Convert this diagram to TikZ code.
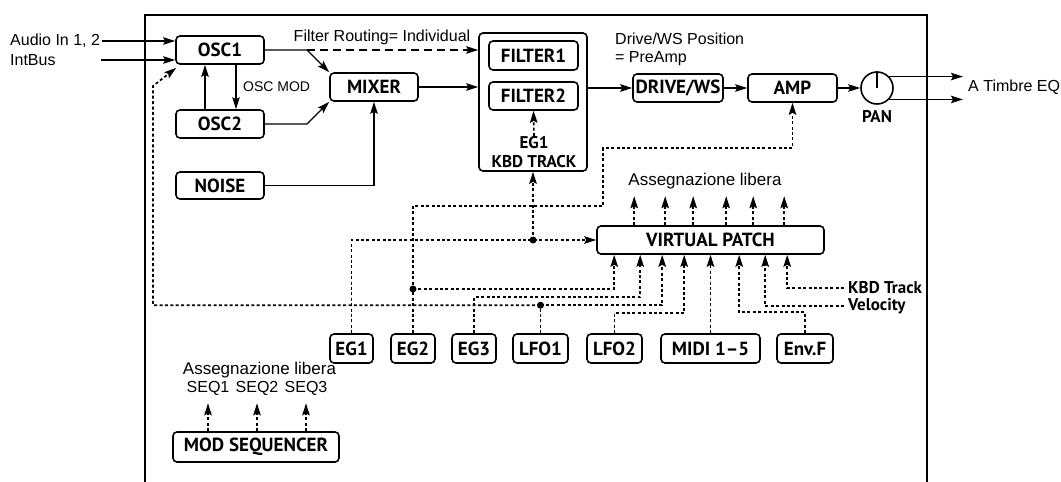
\documentclass[tikz,border=0pt]{standalone}
\usepackage{fontspec}
\setmainfont{Liberation Sans}
\newfontfamily\labelfont{PT Sans}
\usetikzlibrary{arrows.meta}

\begin{document}
\begin{tikzpicture}[x=1pt,y=-1pt,
  box/.style={draw, line width=1.6pt, rounded corners=4pt, inner sep=0pt,
    font=\labelfont\bfseries\fontsize{19}{21}\selectfont},
  tag/.style={inner sep=0pt, font=\labelfont\bfseries\fontsize{17}{19}\selectfont},
  txt/.style={inner sep=0pt, font=\fontsize{16}{19}\selectfont},
  bigtxt/.style={inner sep=0pt, font=\fontsize{17}{19}\selectfont},
  wire/.style={line width=1.4pt},
  dotw/.style={line width=1.7pt, dash pattern=on 3pt off 2.4pt},
  dashw/.style={line width=1.4pt, dash pattern=on 8pt off 5pt},
  arr/.style={-{Stealth[length=12pt,width=7.5pt,inset=2pt]}},
  jdot/.style={circle, fill, inner sep=0pt, minimum size=7pt},
  smallbox/.style={box, minimum height=29pt},
]
\useasboundingbox (0,0) rectangle (1061,482);

% outer frame
\draw[line width=1.6pt] (145,482) -- (145,15) -- (927,15) -- (927,482);

% audio path blocks
\node[box, minimum width=88pt, minimum height=28pt] (osc1) at (220,50) {OSC1};
\node[box, minimum width=88pt, minimum height=28pt] (osc2) at (220,124) {OSC2};
\node[box, minimum width=88pt, minimum height=27pt] (noise) at (220,185.5) {NOISE};
\node[box, minimum width=88pt, minimum height=28pt] (mixer) at (374,87) {MIXER};
\node[box, minimum width=108pt, minimum height=138pt] (filt) at (533,102) {};
\node[box, minimum width=89pt, minimum height=29pt] (f1) at (533.5,55.5) {FILTER1};
\node[box, minimum width=89pt, minimum height=28pt] (f2) at (533.5,96) {FILTER2};
\node[tag, align=center] (egk) at (534,152) {EG1\\KBD TRACK};
\node[box, minimum width=90pt, minimum height=28pt] (drive) at (678,88) {DRIVE/WS};
\node[box, minimum width=89pt, minimum height=28pt] (amp) at (792.5,88) {AMP};
\node[draw, circle, line width=1.6pt, minimum size=32pt, inner sep=0pt] (pan) at (877,88) {};
\node[tag] (panlbl) at (877,117) {PAN};

% modulation blocks
\node[box, minimum width=227pt, minimum height=28pt] (vp) at (710.5,240) {VIRTUAL PATCH};
\node[smallbox, minimum width=43pt] (eg1) at (351.5,348.5) {EG1};
\node[smallbox, minimum width=44pt] (eg2) at (413,348.5) {EG2};
\node[smallbox, minimum width=44pt] (eg3) at (474,348.5) {EG3};
\node[smallbox, minimum width=55pt] (lfo1) at (540.5,348.5) {LFO1};
\node[smallbox, minimum width=55pt] (lfo2) at (614.5,348.5) {LFO2};
\node[smallbox, minimum width=99pt] (midi) at (710.5,348.5) {MIDI 1–5};
\node[smallbox, minimum width=56pt] (envf) at (805,348.5) {Env.F};
\node[box, minimum width=166pt, minimum height=30pt] (modseq) at (256,447) {MOD SEQUENCER};

% captions
\node[txt, anchor=west] (audio) at (10,41) {Audio In 1, 2};
\node[txt, anchor=west] (intbus) at (10,60) {IntBus};
\coordinate (intbusend) at (101,60);
\node[inner sep=0pt, font=\fontsize{14}{16}\selectfont, anchor=west] (oscmod) at (243,87) {OSC MOD};
\node[txt] (frlbl) at (382,37) {Filter Routing= Individual};
\node[txt, anchor=west] (dwpos) at (615,39) {Drive/WS Position};
\node[txt, anchor=west] (dwpre) at (615,59) {= PreAmp};
\node[txt, anchor=west] (eq) at (968,87) {A Timbre EQ};
\coordinate (eqin) at (963,87);
\node[bigtxt] (freeA) at (705,181) {Assegnazione libera};
\node[tag, anchor=west] (kbdt) at (848,288) {KBD Track};
\node[tag, anchor=west] (velo) at (848,306) {Velocity};
\node[bigtxt] (freeB) at (259.5,370) {Assegnazione libera};
\node[txt] (seq1) at (208,388) {SEQ1};
\node[txt] (seq2) at (257,388) {SEQ2};
\node[txt] (seq3) at (306,388) {SEQ3};

% audio connections
\draw[wire,arr] ([xshift=2pt]audio.east) -- (osc1.west |- audio.east);
\draw[wire,arr] (intbusend) -- (osc1.west |- intbusend);
\draw[wire,arr] ([xshift=16pt]osc1.south) -- ([xshift=16pt]osc2.north);
\draw[wire,arr] ([xshift=-15pt]osc2.north) -- ([xshift=-15pt]osc1.south);
\coordinate (split1) at (307,50);
\coordinate (split2) at (307,124);
\draw[wire,arr] (osc1.east) -- (split1) -- (mixer.north west);
\draw[dashw,arr] (split1) -- (split1 -| filt.west);
\draw[wire,arr] (osc2.east) -- (split2) -- (mixer.south west);
\draw[wire,arr] (noise.east) -| (mixer.south);
\draw[wire,arr] (mixer.east) -- (mixer.east -| filt.west);
\draw[wire,arr] (filt.east |- drive.west) -- (drive.west);
\draw[wire,arr] (drive.east) -- (amp.west);
\draw[wire,arr] (amp.east) -- (pan.west);
\draw[wire] (pan.center) -- (pan.north);
\draw[wire,arr] (pan.43) -- (pan.43 -| eqin);
\draw[wire,arr] (pan.-43) -- (pan.-43 -| eqin);

% virtual patch inputs and outputs
\coordinate (vpi1) at ([xshift=18pt]vp.south west);
\coordinate (vpi2) at ([xshift=44pt]vp.south west);
\coordinate (vpi3) at ([xshift=66pt]vp.south west);
\coordinate (vpi4) at ([xshift=88pt]vp.south west);
\coordinate (vpi5) at ([xshift=143pt]vp.south west);
\coordinate (vpi6) at ([xshift=169pt]vp.south west);
\coordinate (vpi7) at ([xshift=191pt]vp.south west);
\foreach \dx in {38,69,97,130,157,188}
  \draw[dotw,arr] ([xshift=\dx pt]vp.north west) -- ++(0,-29);

% modulation routing
\coordinate (amproute1) at (603,206);
\coordinate (amproute2) at (603,148);
\draw[dotw,arr] (eg2.north) |- (amproute1) -- (amproute2) -| (amp.south);

\draw[dotw,arr] (eg1.north) |- (vp.west);
\node[jdot] (jA) at (filt.south |- vp.west) {};
\draw[dotw,arr] (jA.center) -- (filt.south);
\draw[dotw,arr] (egk.north) -- (f2.south);

\node[jdot] (jB) at (413,289) {};
\draw[dotw,arr] (jB.center) -| (vpi1);

\draw[dotw,arr] (eg3.north) -- ++(0,-36) -| (vpi2);

\path (lfo1.north) ++(0,-28) node[jdot] (jC) {};
\coordinate (oscrise) at (153,86);
\draw[dotw] (lfo1.north) -- (jC.center);
\draw[dotw,arr] (jC.center) -| (oscrise) -- ([shift={(1pt,-3pt)}]osc1.south west);

\draw[dotw,arr] (jC.center) -| (vpi3);
\draw[dotw,arr] (lfo2.north) -- ++(0,-20) -| (vpi4);
\draw[dotw,arr] (midi.north) -- (vp.south);
\draw[dotw,arr] (envf.north) -- ++(0,-21) -| (vpi5);
\draw[dotw,arr] ([xshift=-4pt]velo.west) -| (vpi6);
\draw[dotw,arr] ([xshift=-4pt]kbdt.west) -| (vpi7);

% mod sequencer outputs
\foreach \s in {seq1,seq2,seq3}
  \draw[dotw,arr] (\s.south |- modseq.north) -- ([yshift=-8pt]\s.south);
\end{tikzpicture}
\end{document}
